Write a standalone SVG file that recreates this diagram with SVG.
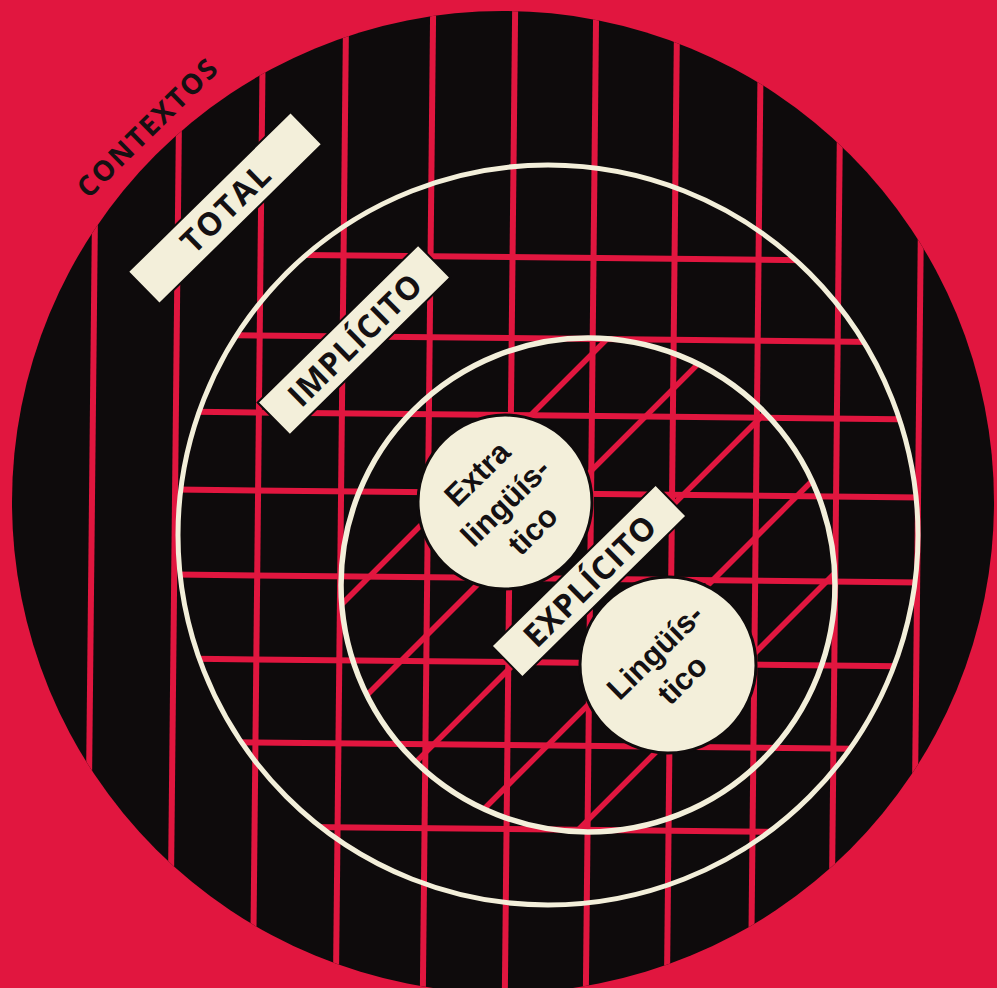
<svg xmlns="http://www.w3.org/2000/svg" width="997" height="988" viewBox="0 0 997 988">
<defs>
<style>
.red line{stroke:#E1163F;stroke-width:6;stroke-linecap:butt}
.diag line{stroke:#E1163F;stroke-width:5.5}
.ring{fill:none;stroke:#F3EFDA}
.box{fill:#F3EFDA;stroke:#0E0B0C;stroke-width:2}
.disc{fill:#F3EFDA;stroke:#0E0B0C;stroke-width:3}
.lbl{font-family:"Open Sans","Liberation Sans",sans-serif;font-weight:700;fill:#141012;text-anchor:middle}
.ctx{font-family:"Liberation Sans","Open Sans",sans-serif;font-weight:700;font-size:31px;fill:#141012;text-anchor:middle}
</style>
<clipPath id="clipOuter"><circle cx="503" cy="502" r="491"/></clipPath>
<clipPath id="clipImp"><circle cx="548" cy="535" r="372"/></clipPath>
<clipPath id="clipExp"><circle cx="588" cy="585" r="246"/></clipPath>
</defs>
<rect width="997" height="988" fill="#E1163F"/>
<g id="outer-circle"><circle cx="503" cy="502" r="491" fill="#0E0B0C"/></g>
<g id="connectors">
<g clip-path="url(#clipOuter)"><g class="red" transform="rotate(0.6 500 500)">
<line x1="92" y1="-20" x2="92" y2="1010"/><line x1="175" y1="-20" x2="175" y2="1010"/><line x1="258" y1="-20" x2="258" y2="1010"/><line x1="341" y1="-20" x2="341" y2="1010"/><line x1="428" y1="-20" x2="428" y2="1010"/><line x1="510" y1="-20" x2="510" y2="1010"/><line x1="591" y1="-20" x2="591" y2="1010"/><line x1="672" y1="-20" x2="672" y2="1010"/><line x1="756" y1="-20" x2="756" y2="1010"/><line x1="836" y1="-20" x2="836" y2="1010"/><line x1="918" y1="-20" x2="918" y2="1010"/>
</g></g>
<g clip-path="url(#clipImp)"><g class="red" transform="rotate(0.6 500 500)">
<line x1="120" y1="257" x2="980" y2="257"/><line x1="120" y1="338" x2="980" y2="338"/><line x1="120" y1="415" x2="980" y2="415"/><line x1="120" y1="493" x2="980" y2="493"/><line x1="120" y1="578" x2="980" y2="578"/><line x1="120" y1="662" x2="980" y2="662"/><line x1="120" y1="745" x2="980" y2="745"/><line x1="120" y1="829" x2="980" y2="829"/>
</g></g>
<g clip-path="url(#clipExp)"><g class="diag">
<line x1="200" y1="746" x2="1000" y2="-54"/><line x1="200" y1="862" x2="1000" y2="62"/><line x1="200" y1="978" x2="1000" y2="178"/><line x1="200" y1="1093" x2="1000" y2="293"/><line x1="200" y1="1208" x2="1000" y2="408"/>
</g></g>
</g>
<g id="ring-implicito"><circle class="ring" cx="548" cy="535" r="370" stroke-width="5"/></g>
<g id="ring-explicito"><circle class="ring" cx="588" cy="585" r="247" stroke-width="5.5"/></g>
<g id="label-contextos" transform="translate(147 128) rotate(-44.5)"><text class="lbl" x="1" y="10" font-size="28" letter-spacing="2">CONTEXTOS</text></g>
<g id="label-total" transform="translate(225 208) rotate(-44.5)"><rect class="box" x="-114" y="-22.5" width="228" height="45"/><text class="lbl" x="1" y="12" font-size="32" letter-spacing="2">TOTAL</text></g>
<g id="label-implicito" transform="translate(354 340) rotate(-44.5)"><rect class="box" x="-112.5" y="-23" width="225" height="46"/><text class="lbl" x="1" y="12" font-size="32" letter-spacing="1">IMPLÍCITO</text></g>
<g id="node-extralinguistico" transform="translate(505 502) rotate(-44.5)"><circle class="disc" r="87"/><text class="ctx" y="-29">Extra</text><text class="ctx" y="11">lingüís-</text><text class="ctx" y="50">tico</text></g>
<g id="node-linguistico" transform="translate(668 665) rotate(-44.5)"><circle class="disc" r="88"/><text class="ctx" y="-8">Lingüís-</text><text class="ctx" y="31">tico</text></g>
<g id="label-explicito" transform="translate(589 581) rotate(-44.5)"><rect class="box" x="-115" y="-22" width="230" height="44"/><text class="lbl" x="1" y="12" font-size="32" letter-spacing="1">EXPLÍCITO</text></g>
</svg>
